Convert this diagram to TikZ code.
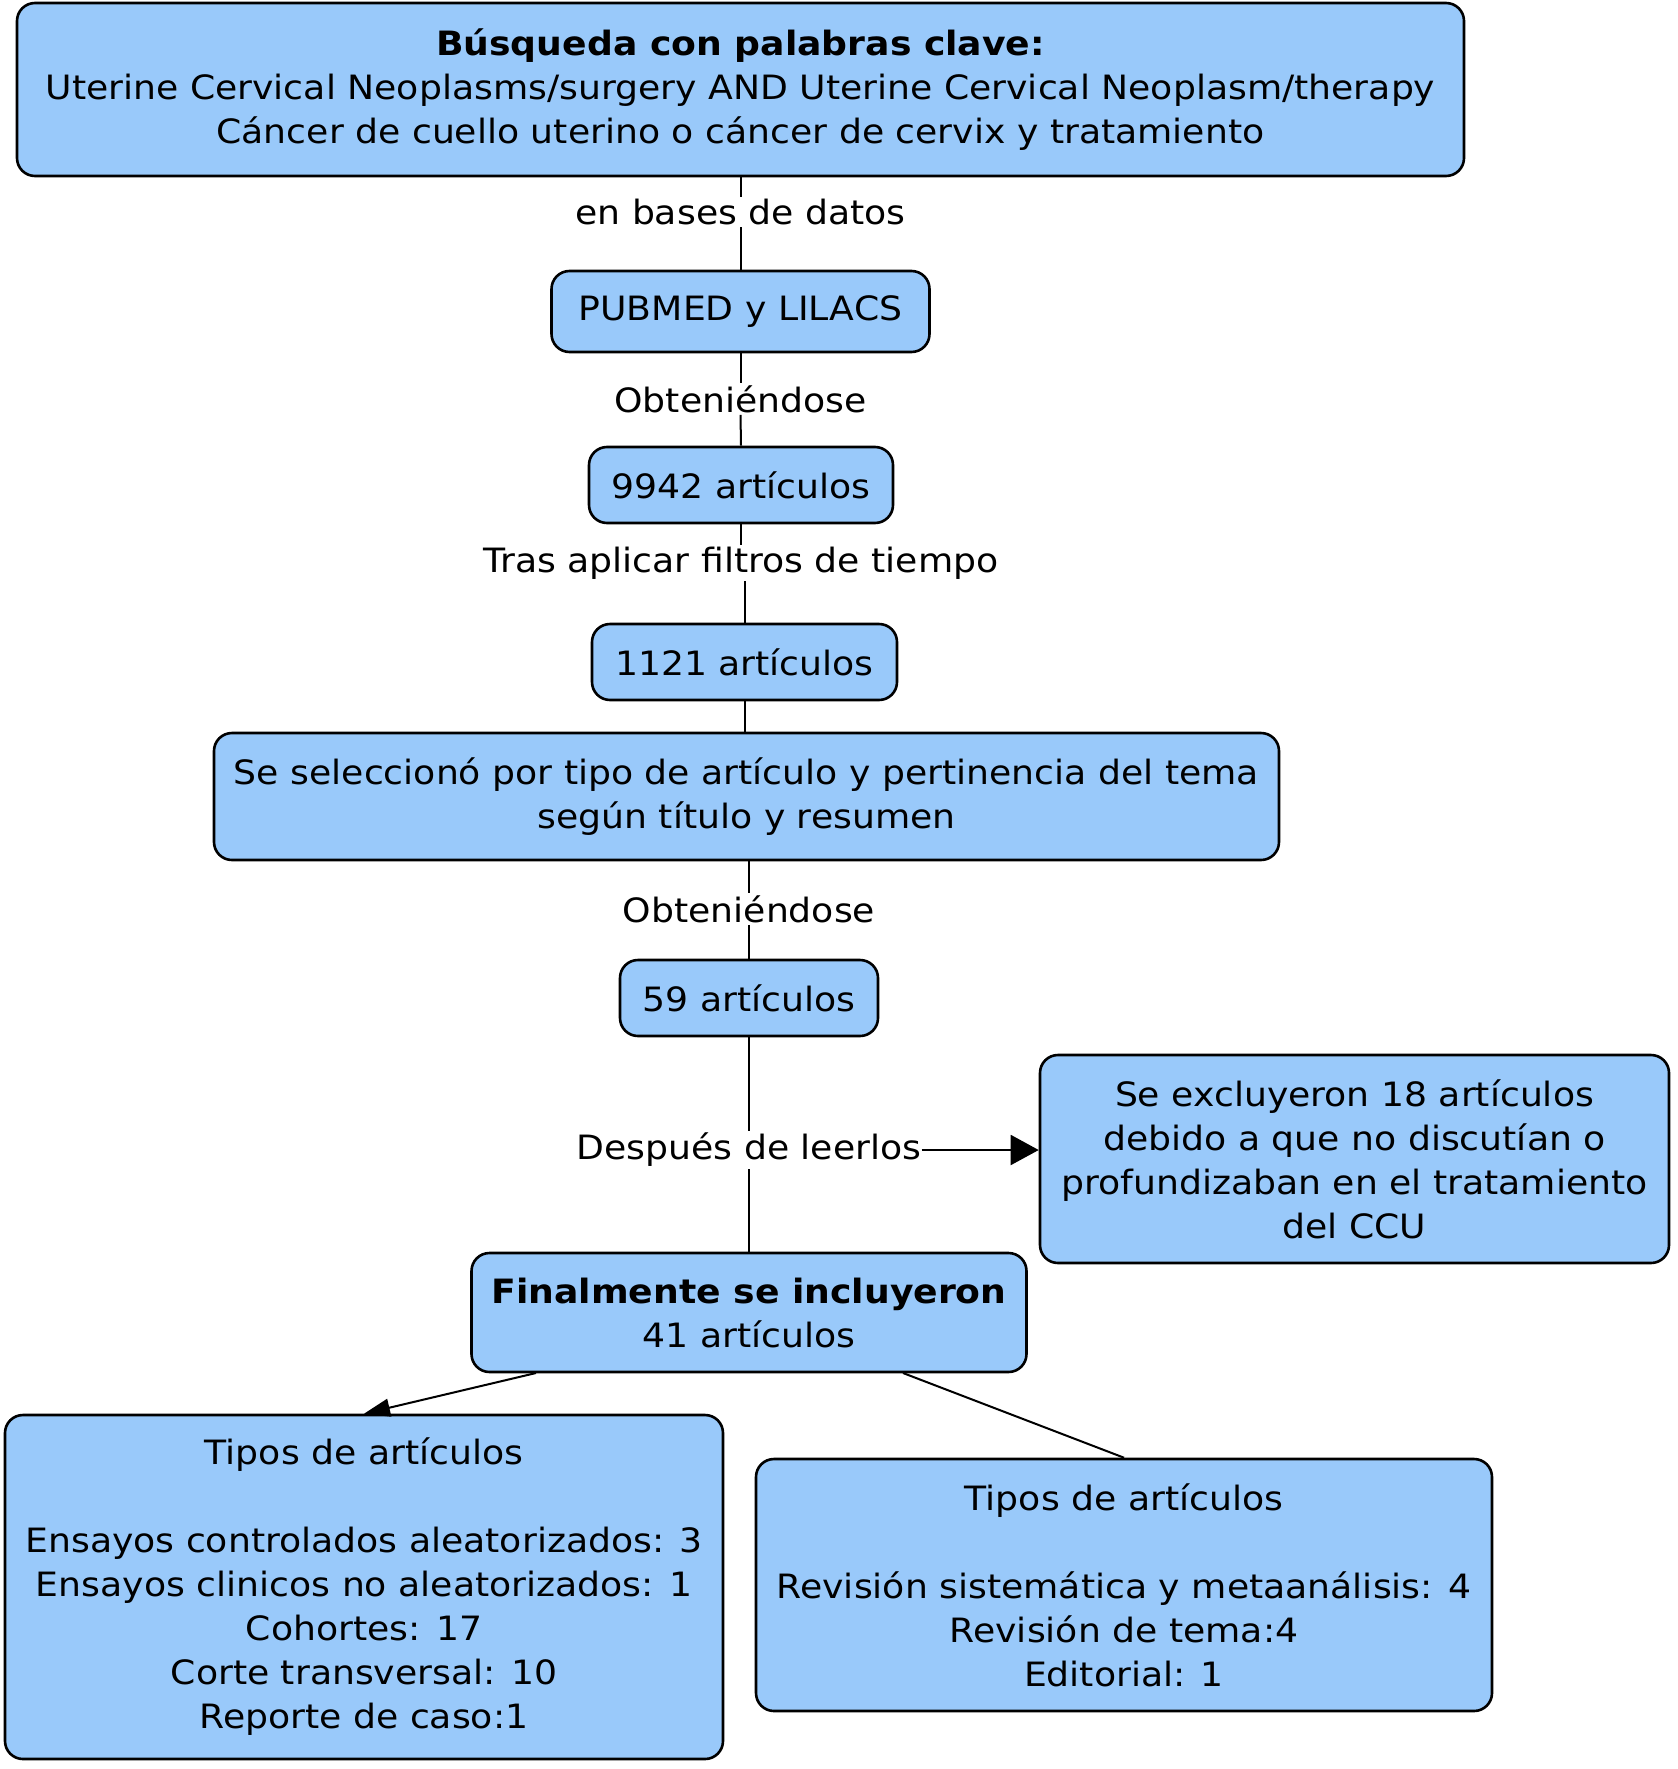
\documentclass[tikz,border=0pt]{standalone}
\usepackage{fontspec}
\setmainfont[FakeStretch=1.08]{DejaVu Sans}
\usetikzlibrary{arrows.meta}
\definecolor{boxblue}{RGB}{153,201,250}
\tikzset{
  box/.style={draw=black, line width=2.6pt, fill=boxblue, rounded corners=18pt,
    align=center, inner sep=0pt, font=\fontsize{33.5}{44}\selectfont},
  lab/.style={fill=white, inner xsep=3pt, inner ysep=2pt, font=\fontsize{33.5}{44}\selectfont},
  conn/.style={line width=2pt, draw=black},
  bigtip/.style={-{Triangle[length=28pt,width=30pt]}},
  smalltip/.style={-{Triangle[length=26pt,width=18pt]}}
}
\begin{document}
\begin{tikzpicture}[x=1pt,y=-1pt]
\useasboundingbox (0,0) rectangle (1678,1769);
\node[box, minimum width=1447pt, minimum height=173pt] (top) at (740.5,89.5)
  {\textbf{Búsqueda con palabras clave:}\\
   Uterine Cervical Neoplasms/surgery AND Uterine Cervical Neoplasm/therapy\\
   Cáncer de cuello uterino o cáncer de cervix y tratamiento};
\node[box, minimum width=378pt, minimum height=81pt] (pubmed) at (740.5,311.5) {PUBMED y LILACS};
\node[box, minimum width=304pt, minimum height=76pt] (n9942) at (741,485) {9942 artículos};
\node[box, minimum width=305pt, minimum height=76pt] (n1121) at (744.5,662) {1121 artículos};
\node[box, minimum width=1065pt, minimum height=127pt] (sel) at (746.5,796.5)
  {Se seleccionó por tipo de artículo y pertinencia del tema\\ según título y resumen};
\node[box, minimum width=258pt, minimum height=76pt] (n59) at (749,998) {59 artículos};
\node[box, minimum width=629pt, minimum height=208pt] (excl) at (1354.5,1159)
  {Se excluyeron 18 artículos\\ debido a que no discutían o\\ profundizaban en el tratamiento\\ del CCU};
\node[box, minimum width=555pt, minimum height=119pt] (final) at (749,1312.5)
  {\textbf{Finalmente se incluyeron}\\ 41 artículos};
\node[box, minimum width=718pt, minimum height=344pt] (left) at (364,1587)
  {Tipos de artículos\\[44pt] Ensayos controlados aleatorizados: 3\\ Ensayos clinicos no aleatorizados: 1\\ Cohortes: 17\\ Corte transversal: 10\\ Reporte de caso:1};
\node[box, minimum width=736pt, minimum height=252pt] (right) at (1124,1585)
  {Tipos de artículos\\[44pt] Revisión sistemática y metaanálisis: 4\\ Revisión de tema:4\\ Editorial: 1};

\node[lab] (l1) at (740.5,212) {en bases de datos};
\node[lab] (l2) at (740.5,399) {Obteniéndose};
\node[lab] (l3) at (741,563) {Tras aplicar filtros de tiempo};
\node[lab] (l4) at (749,909) {Obteniéndose};
\node[lab, inner xsep=0pt] (l5) at (749,1150) {Después de leerlos};

\coordinate (fl) at (536,1373);
\coordinate (fr) at (903,1373);

\draw[conn] (top.south) -- (l1.north);
\draw[conn] (l1.south) -- (pubmed.north);
\draw[conn] (pubmed.south) -- (l2.north);
\draw[conn] (l2.south) -- (n9942.north);
\draw[conn] (n9942.south) -- (l3.north);
\draw[conn] (l3.south -| n1121.north) -- (n1121.north);
\draw[conn] (n1121.south) -- (n1121.south |- sel.north);
\draw[conn] (sel.south -| l4.north) -- (l4.north);
\draw[conn] (l4.south) -- (n59.north);
\draw[conn] (n59.south) -- (l5.north);
\draw[conn] (l5.south) -- (final.north);
\draw[conn, bigtip] (l5.east) -- (l5.east -| excl.west);
\draw[conn, smalltip] (fl) -- (left.north);
\draw[conn] (fr) -- (right.north);
\end{tikzpicture}
\end{document}
